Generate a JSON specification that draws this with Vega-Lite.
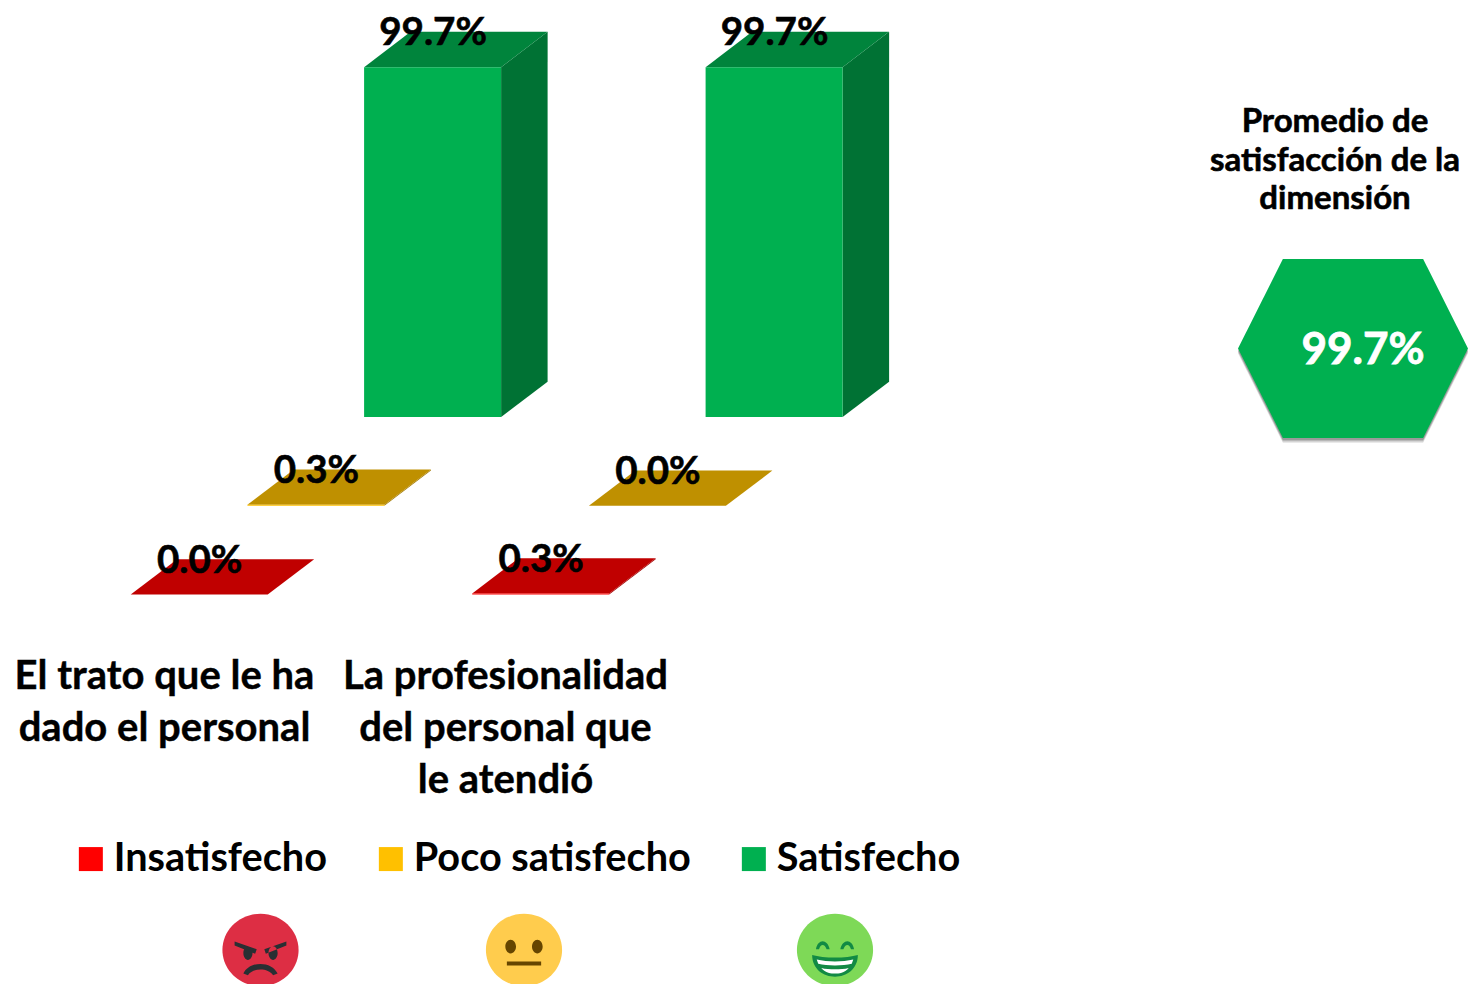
{"$schema":"https://vega.github.io/schema/vega-lite/v6.json","width":1468,"height":984,"padding":0,"autosize":"none","background":"white","config":{"view":{"stroke":null},"axis":{"disable":true},"text":{"font":"Lato","fontWeight":"bold","color":"black"}},"datasets":{"barras":[{"pregunta":"El trato que le ha dado el personal","nivel":"Insatisfecho","valor":0.0},{"pregunta":"El trato que le ha dado el personal","nivel":"Poco satisfecho","valor":0.3},{"pregunta":"El trato que le ha dado el personal","nivel":"Satisfecho","valor":99.7},{"pregunta":"La profesionalidad del personal que le atendió","nivel":"Insatisfecho","valor":0.3},{"pregunta":"La profesionalidad del personal que le atendió","nivel":"Poco satisfecho","valor":0.0},{"pregunta":"La profesionalidad del personal que le atendió","nivel":"Satisfecho","valor":99.7}],"preguntas":[{"orden":0,"etiqueta":"El trato que le ha\ndado el personal"},{"orden":1,"etiqueta":"La profesionalidad\ndel personal que\nle atendió"}],"promedio":[{"titulo":"Promedio de\nsatisfacción de la\ndimensión","valor":"99.7%"}],"caras":[{"nivel":"Insatisfecho"},{"nivel":"Poco satisfecho"},{"nivel":"Satisfecho"}]},"data":{"name":"barras"},"transform":[{"calculate":"indexof(['Insatisfecho','Poco satisfecho','Satisfecho'],datum.nivel)","as":"s"},{"calculate":"datum.pregunta[0]==='E'?0:1","as":"g"},{"calculate":"datum.pregunta+datum.nivel","as":"id"},{"calculate":"130.7+341.5*datum.g+116.7*datum.s","as":"xl"},{"calculate":"datum.xl+137","as":"xr"},{"calculate":"594.5-88.7*datum.s","as":"yb"},{"calculate":"datum.yb-3.51*datum.valor","as":"yt"},{"calculate":"format(datum.valor,'.1f')+'%'","as":"texto"}],"layer":[{"transform":[{"calculate":"[0,1]","as":"d"},{"flatten":["d"]},{"calculate":"datum.xr+46.5*datum.d","as":"sx"},{"calculate":"datum.yt-35.3*datum.d","as":"st"},{"calculate":"datum.yb-35.3*datum.d","as":"sb"}],"mark":{"type":"area","orient":"vertical"},"encoding":{"x":{"field":"sx","type":"quantitative","scale":{"domain":[0,1468],"nice":false,"zero":false}},"y":{"field":"st","type":"quantitative","scale":{"domain":[984,0],"nice":false,"zero":false}},"y2":{"field":"sb"},"detail":{"field":"id"},"color":{"field":"nivel","type":"nominal","legend":null,"scale":{"domain":["Insatisfecho","Poco satisfecho","Satisfecho"],"range":["#A00000","#A07800","#007234"]}}}},{"transform":[{"calculate":"[0,1]","as":"d"},{"flatten":["d"]},{"calculate":"datum.xl+46.5*datum.d","as":"t1"},{"calculate":"datum.xr+46.5*datum.d","as":"t2"},{"calculate":"datum.yt-35.3*datum.d","as":"ty"}],"mark":{"type":"area","orient":"horizontal"},"encoding":{"x":{"field":"t1","type":"quantitative","scale":{"domain":[0,1468],"nice":false,"zero":false}},"x2":{"field":"t2"},"y":{"field":"ty","type":"quantitative","scale":{"domain":[984,0],"nice":false,"zero":false}},"detail":{"field":"id"},"color":{"field":"nivel","type":"nominal","legend":null,"scale":{"domain":["Insatisfecho","Poco satisfecho","Satisfecho"],"range":["#C00000","#BF9000","#00843C"]}}}},{"mark":{"type":"rect"},"encoding":{"x":{"field":"xl","type":"quantitative","scale":{"domain":[0,1468],"nice":false,"zero":false}},"x2":{"field":"xr"},"y":{"field":"yt","type":"quantitative","scale":{"domain":[984,0],"nice":false,"zero":false}},"y2":{"field":"yb"},"color":{"field":"nivel","type":"nominal","scale":{"domain":["Insatisfecho","Poco satisfecho","Satisfecho"],"range":["#FF0000","#FFC000","#00B050"]},"legend":{"title":null,"orient":"none","legendX":71,"legendY":839,"direction":"horizontal","columns":3,"symbolType":"square","symbolSize":576,"symbolStrokeWidth":0,"labelFont":"Lato","labelFontWeight":"bold","labelFontSize":39.7,"labelColor":"black","labelOffset":3,"columnPadding":43,"labelLimit":400,"symbolOpacity":1}}}},{"transform":[{"calculate":"datum.xl+69","as":"tx"},{"calculate":"datum.yt-35.3+1.5","as":"ty"}],"mark":{"type":"text","fontSize":38.5,"align":"center","baseline":"middle","stroke":"black","strokeWidth":0.6},"encoding":{"x":{"field":"tx","type":"quantitative","scale":{"domain":[0,1468],"nice":false,"zero":false}},"y":{"field":"ty","type":"quantitative","scale":{"domain":[984,0],"nice":false,"zero":false}},"text":{"field":"texto"}}},{"data":{"name":"preguntas"},"transform":[{"calculate":"164.5+341*datum.orden","as":"tx"},{"calculate":"689","as":"ty"}],"mark":{"type":"text","fontSize":40,"align":"center","baseline":"alphabetic","lineBreak":"\n","lineHeight":52,"stroke":"black","strokeWidth":0.4},"encoding":{"x":{"field":"tx","type":"quantitative","scale":{"domain":[0,1468],"nice":false,"zero":false}},"y":{"field":"ty","type":"quantitative","scale":{"domain":[984,0],"nice":false,"zero":false}},"text":{"field":"etiqueta"}}},{"data":{"name":"promedio"},"mark":{"type":"text","fontSize":33,"align":"center","baseline":"alphabetic","lineBreak":"\n","lineHeight":38.5,"stroke":"black","strokeWidth":0.6},"encoding":{"x":{"datum":1335,"type":"quantitative","scale":{"domain":[0,1468],"nice":false,"zero":false}},"y":{"datum":132,"type":"quantitative","scale":{"domain":[984,0],"nice":false,"zero":false}},"text":{"field":"titulo"}}},{"data":{"name":"promedio"},"mark":{"type":"point","shape":"M-1,0L-.61,-.778L.61,-.778L1,0L.61,.778L-.61,.778Z","filled":true,"size":52900,"color":"#555555","opacity":0.25},"encoding":{"x":{"datum":1353,"type":"quantitative","scale":{"domain":[0,1468],"nice":false,"zero":false}},"y":{"datum":353,"type":"quantitative","scale":{"domain":[984,0],"nice":false,"zero":false}}}},{"data":{"name":"promedio"},"mark":{"type":"point","shape":"M-1,0L-.61,-.778L.61,-.778L1,0L.61,.778L-.61,.778Z","filled":true,"size":52900,"color":"#555555","opacity":0.45},"encoding":{"x":{"datum":1353,"type":"quantitative","scale":{"domain":[0,1468],"nice":false,"zero":false}},"y":{"datum":351,"type":"quantitative","scale":{"domain":[984,0],"nice":false,"zero":false}}}},{"data":{"name":"promedio"},"mark":{"type":"point","shape":"M-1,0L-.61,-.778L.61,-.778L1,0L.61,.778L-.61,.778Z","filled":true,"size":52900,"color":"#00B050","opacity":1},"encoding":{"x":{"datum":1353,"type":"quantitative","scale":{"domain":[0,1468],"nice":false,"zero":false}},"y":{"datum":348.5,"type":"quantitative","scale":{"domain":[984,0],"nice":false,"zero":false}}}},{"data":{"name":"promedio"},"mark":{"type":"text","fontSize":44,"align":"center","baseline":"middle","color":"white","stroke":"white","strokeWidth":0.8},"encoding":{"x":{"datum":1363,"type":"quantitative","scale":{"domain":[0,1468],"nice":false,"zero":false}},"y":{"datum":351,"type":"quantitative","scale":{"domain":[984,0],"nice":false,"zero":false}},"text":{"field":"valor"}}},{"data":{"name":"caras"},"transform":[{"calculate":"datum.nivel==='Insatisfecho'?260.5:datum.nivel==='Poco satisfecho'?524:835","as":"cx"}],"mark":{"type":"point","shape":"M-1,0A1,.95 0 1,1 1,0A1,.95 0 1,1 -1,0Z","filled":true,"size":5800,"opacity":1},"encoding":{"x":{"field":"cx","type":"quantitative","scale":{"domain":[0,1468],"nice":false,"zero":false}},"y":{"datum":950,"type":"quantitative","scale":{"domain":[984,0],"nice":false,"zero":false}},"color":{"field":"nivel","type":"nominal","legend":null,"scale":{"domain":["Insatisfecho","Poco satisfecho","Satisfecho"],"range":["#DD2E44","#FFCC4D","#7ED957"]}}}},{"data":{"name":"caras"},"transform":[{"filter":"datum.nivel==='Insatisfecho'"}],"mark":{"type":"point","shape":"M-.68,-.22L-.1,-.02L-.14,.1L-.68,-.12ZM.68,-.22L.1,-.02L.14,.1L.68,-.12ZM-.45,.08A.12,.18 0 1,1 -.21,.08A.12,.18 0 1,1 -.45,.08ZM.21,.08A.12,.18 0 1,1 .45,.08A.12,.18 0 1,1 .21,.08ZM-.45,.62C-.3,.28 .3,.28 .45,.62L.33,.66C.2,.46 -.2,.46 -.33,.66Z","filled":true,"size":5800,"color":"#292F33","opacity":1},"encoding":{"x":{"datum":260.5,"type":"quantitative","scale":{"domain":[0,1468],"nice":false,"zero":false}},"y":{"datum":950,"type":"quantitative","scale":{"domain":[984,0],"nice":false,"zero":false}}}},{"data":{"name":"caras"},"transform":[{"filter":"datum.nivel==='Poco satisfecho'"}],"mark":{"type":"point","shape":"M-.49,-.09A.14,.18 0 1,1 -.21,-.09A.14,.18 0 1,1 -.49,-.09ZM.21,-.09A.14,.18 0 1,1 .49,-.09A.14,.18 0 1,1 .21,-.09ZM-.45,.3L.45,.3L.45,.41L-.45,.41Z","filled":true,"size":5800,"color":"#664500","opacity":1},"encoding":{"x":{"datum":524,"type":"quantitative","scale":{"domain":[0,1468],"nice":false,"zero":false}},"y":{"datum":950,"type":"quantitative","scale":{"domain":[984,0],"nice":false,"zero":false}}}},{"data":{"name":"caras"},"transform":[{"filter":"datum.nivel==='Satisfecho'"}],"mark":{"type":"point","shape":"M-.5,-.02C-.45,-.3 -.2,-.3 -.14,-.02L-.22,-.02C-.27,-.17 -.38,-.17 -.42,-.02ZM.14,-.02C.2,-.3 .45,-.3 .5,-.02L.42,-.02C.38,-.17 .27,-.17 .22,-.02ZM-.6,.13C-.3,.22 .3,.22 .6,.13C.6,.5 .3,.7 0,.7C-.3,.7 -.6,.5 -.6,.13Z","filled":true,"size":5800,"color":"#128A44","opacity":1},"encoding":{"x":{"datum":835,"type":"quantitative","scale":{"domain":[0,1468],"nice":false,"zero":false}},"y":{"datum":950,"type":"quantitative","scale":{"domain":[984,0],"nice":false,"zero":false}}}},{"data":{"name":"caras"},"transform":[{"filter":"datum.nivel==='Satisfecho'"}],"mark":{"type":"point","shape":"M-.48,.25C-.2,.32 .2,.32 .48,.25L.44,.36C.2,.42 -.2,.42 -.44,.36ZM-.36,.47C-.15,.52 .15,.52 .36,.47C.25,.6 .1,.62 0,.62C-.1,.62 -.25,.6 -.36,.47Z","filled":true,"size":5800,"color":"white","opacity":1},"encoding":{"x":{"datum":835,"type":"quantitative","scale":{"domain":[0,1468],"nice":false,"zero":false}},"y":{"datum":950,"type":"quantitative","scale":{"domain":[984,0],"nice":false,"zero":false}}}}],"resolve":{"scale":{"color":"independent"}}}
